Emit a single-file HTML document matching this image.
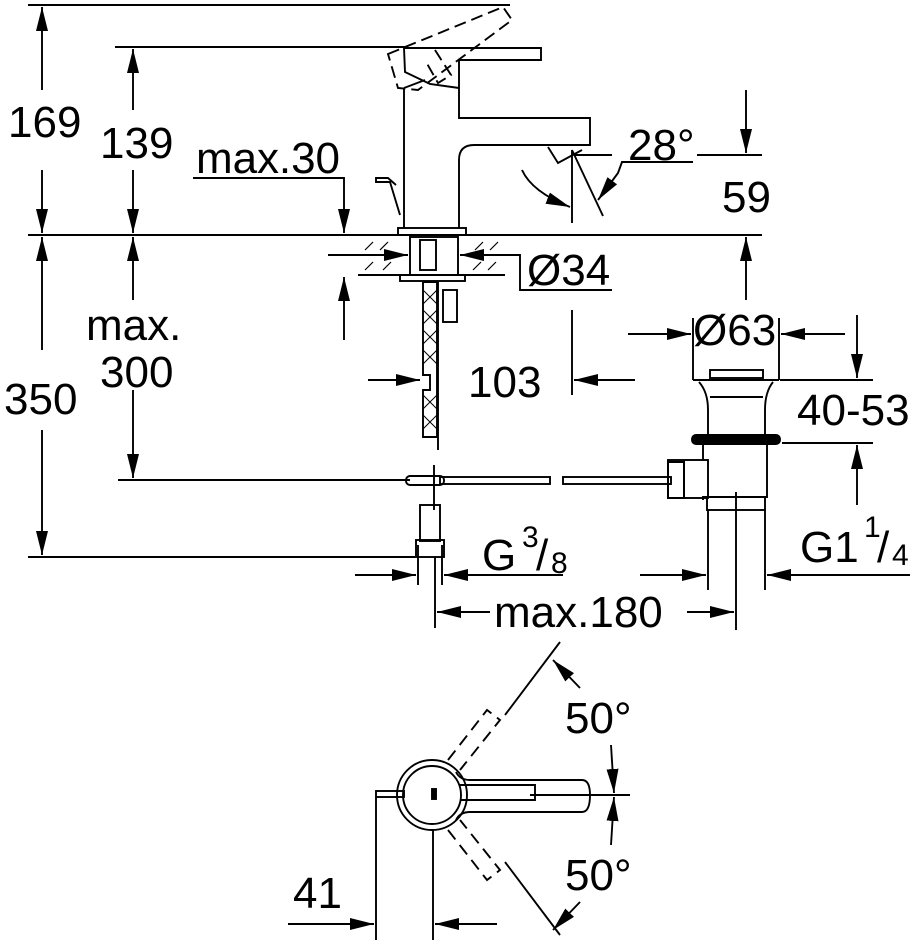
<!DOCTYPE html>
<html><head><meta charset="utf-8"><style>
html,body{margin:0;padding:0;background:#fff}
svg{display:block}
text{font-family:"Liberation Sans",Arial,sans-serif;fill:#000}
</style></head><body>
<svg width="921" height="950" viewBox="0 0 921 950" xmlns="http://www.w3.org/2000/svg">
<defs>
<marker id="a" viewBox="0 0 24 12" preserveAspectRatio="none" refX="24" refY="6" markerWidth="24" markerHeight="12" markerUnits="userSpaceOnUse" orient="auto"><path d="M0,0L24,6L0,12z" fill="#000"/></marker>
</defs>
<g stroke="#000" stroke-width="1.9" fill="none">
<line x1="28" y1="5" x2="510" y2="5"/>
<line x1="28" y1="235" x2="762" y2="235"/>
<line x1="28" y1="557" x2="415" y2="557"/>
<line x1="42" y1="90" x2="42" y2="7" marker-end="url(#a)"/>
<line x1="42" y1="170" x2="42" y2="233" marker-end="url(#a)"/>
<line x1="42" y1="350" x2="42" y2="237" marker-end="url(#a)"/>
<line x1="42" y1="430" x2="42" y2="555" marker-end="url(#a)"/>
<line x1="115" y1="47" x2="405" y2="47"/>
<line x1="133" y1="110" x2="133" y2="49" marker-end="url(#a)"/>
<line x1="133" y1="170" x2="133" y2="233" marker-end="url(#a)"/>
<line x1="133" y1="300" x2="133" y2="237" marker-end="url(#a)"/>
<line x1="133" y1="390" x2="133" y2="478" marker-end="url(#a)"/>
<line x1="118" y1="480" x2="410" y2="480"/>
<polyline points="193,178 344,178 344,233" marker-end="url(#a)"/>
<line x1="344" y1="340" x2="344" y2="277" marker-end="url(#a)"/>
<path d="M404,228 V88 M404,48 H541 V60 H459 V118 H590 V145 H474 Q459,145 459,160 V228"/>
<path d="M404,48 L405,72 L430,84 L459,88 M404,88 L425,80"/>
<rect x="398" y="228" width="68" height="7"/>
<path d="M400,215 L390,182 H376 V178 H388 L396,185" />
<path d="M548,147 L558,163 L582,150" />
<path d="M388,54 L503,7 L512,20 L418,90 L398,88 Z M435,50 L451,75 L438,83 L425,60" stroke-dasharray="12,6"/>
<line x1="572" y1="150" x2="572" y2="223"/>
<line x1="572" y1="150" x2="603" y2="216"/>
<line x1="575" y1="155" x2="612" y2="155"/>
<polyline points="693,162 622,162 618,173 598,200" marker-end="url(#a)"/>
<path d="M522,170 Q532,192 570,207" marker-end="url(#a)"/>
<line x1="697" y1="155" x2="762" y2="155"/>
<line x1="746" y1="90" x2="746" y2="153" marker-end="url(#a)"/>
<line x1="746" y1="300" x2="746" y2="237" marker-end="url(#a)"/>
<line x1="358" y1="275" x2="505" y2="275"/>
<g stroke-width="1.2">
<path d="M365,250 l8,-8 M380,250 l8,-8 M475,250 l8,-8 M490,250 l8,-8 M365,270 l8,-8 M383,270 l8,-8 M473,270 l8,-8 M488,270 l8,-8"/>
</g>
<rect x="410" y="237" width="48" height="38"/>
<rect x="420" y="240" width="16" height="30"/>
<rect x="400" y="275" width="65" height="6"/>
<line x1="328" y1="255" x2="408" y2="255" marker-end="url(#a)"/>
<line x1="505" y1="255" x2="460" y2="255" marker-end="url(#a)"/>
<polyline points="505,255 520,255 520,290 612,290"/>
<path d="M423,282 V375 H430 V390 H423 V437 H437 V282 Z"/>
<path d="M423,290 l14,14 M437,290 l-14,14 M423,310 l14,14 M437,310 l-14,14 M423,330 l14,14 M437,330 l-14,14 M423,350 l14,14 M437,350 l-14,14 M423,395 l14,14 M437,395 l-14,14 M423,415 l14,14 M437,415 l-14,14" stroke-width="1"/>
<line x1="438" y1="282" x2="438" y2="450"/>
<rect x="443" y="290" width="14" height="32"/>
<line x1="368" y1="380" x2="420" y2="380" marker-end="url(#a)"/>
<line x1="572" y1="310" x2="572" y2="395"/>
<line x1="635" y1="380" x2="574" y2="380" marker-end="url(#a)"/>
<rect x="406" y="476" width="38" height="9" rx="4"/>
<line x1="434" y1="465" x2="434" y2="510"/>
<rect x="440" y="477" width="110" height="7"/>
<rect x="563" y="477" width="108" height="7"/>
<rect x="420" y="505" width="20" height="36"/>
<rect x="416" y="540" width="28" height="17"/>
<line x1="418" y1="545" x2="418" y2="585"/><line x1="442" y1="545" x2="442" y2="585"/>
<line x1="435" y1="557" x2="435" y2="628"/>
<line x1="355" y1="575" x2="416" y2="575" marker-end="url(#a)"/>
<polyline points="563,575 444,575" marker-end="url(#a)"/>
<line x1="490" y1="612" x2="437" y2="612" marker-end="url(#a)"/>
<line x1="687" y1="612" x2="734" y2="612" marker-end="url(#a)"/>
<line x1="693" y1="318" x2="693" y2="380"/><line x1="779" y1="318" x2="779" y2="380"/>
<line x1="628" y1="334" x2="691" y2="334" marker-end="url(#a)"/>
<line x1="845" y1="334" x2="781" y2="334" marker-end="url(#a)"/>
<rect x="710" y="370" width="53" height="8"/>
<path d="M693,380 H779 M699,382 Q708,392 708,410 V435 M773,382 Q765,392 765,410 V435 M710,397 H763"/>
<rect x="692" y="435" width="88" height="9" rx="4" fill="#000"/>
<path d="M703,444 V460 M767,444 V497 H703 V500"/>
<rect x="668" y="460" width="40" height="38"/>
<rect x="668" y="462" width="16" height="36" stroke-width="2"/>
<rect x="707" y="497" width="58" height="13"/>
<line x1="708" y1="510" x2="708" y2="590"/><line x1="765" y1="510" x2="765" y2="590"/>
<line x1="736" y1="492" x2="736" y2="630"/>
<line x1="640" y1="575" x2="706" y2="575" marker-end="url(#a)"/>
<line x1="910" y1="575" x2="767" y2="575" marker-end="url(#a)"/>
<line x1="780" y1="380" x2="873" y2="380"/>
<line x1="782" y1="443" x2="873" y2="443"/>
<line x1="857" y1="315" x2="857" y2="378" marker-end="url(#a)"/>
<line x1="857" y1="505" x2="857" y2="445" marker-end="url(#a)"/>
<circle cx="432" cy="795" r="35"/>
<path d="M456,772 Q460,780 470,780 H582 Q590,780 590,795 Q590,812 582,812 H470 Q460,812 456,820"/>
<path d="M460,785 L535,785 V800 H460"/>
<circle cx="432" cy="795" r="29"/>
<rect x="376" y="791" width="28" height="6"/>
<rect x="432" y="789" width="4" height="10" fill="#000"/>
<line x1="376" y1="797" x2="376" y2="940"/>
<line x1="433" y1="830" x2="433" y2="940"/>
<line x1="288" y1="924" x2="374" y2="924" marker-end="url(#a)"/>
<line x1="497" y1="924" x2="435" y2="924" marker-end="url(#a)"/>
<line x1="530" y1="795" x2="630" y2="795"/>
<line x1="560" y1="642" x2="505" y2="715"/>
<line x1="505" y1="862" x2="560" y2="935"/>
<path d="M448,760 L487,710 L500,720 L460,770" stroke-dasharray="12,7"/>
<path d="M448,830 L487,880 L500,870 L460,820" stroke-dasharray="12,7"/>
<line x1="580" y1="688" x2="553" y2="660" marker-end="url(#a)"/>
<line x1="580" y1="902" x2="553" y2="930" marker-end="url(#a)"/>
<line x1="611" y1="745" x2="614" y2="793" marker-end="url(#a)"/>
<line x1="611" y1="845" x2="614" y2="797" marker-end="url(#a)"/>
</g>
<g font-size="44">
<text x="8" y="137">169</text>
<text x="100" y="158">139</text>
<text x="196" y="173" textLength="144">max.30</text>
<text x="86" y="340">max.</text>
<text x="100" y="387">300</text>
<text x="4" y="414">350</text>
<text x="628" y="160">28°</text>
<text x="722" y="212">59</text>
<text x="527" y="285">Ø34</text>
<text x="468" y="397">103</text>
<text x="693" y="345">Ø63</text>
<text x="797" y="425">40-53</text>
<text x="482" y="570">G</text>
<text x="522" y="547" font-size="30">3</text>
<text x="536" y="570">/</text>
<text x="551" y="573" font-size="30">8</text>
<text x="800" y="562">G1</text>
<text x="864" y="537" font-size="30">1</text>
<text x="877" y="562">/</text>
<text x="892" y="565" font-size="30">4</text>
<text x="494" y="627">max.180</text>
<text x="565" y="733">50°</text>
<text x="565" y="890">50°</text>
<text x="293" y="908">41</text>
</g>
</svg>
</body></html>
